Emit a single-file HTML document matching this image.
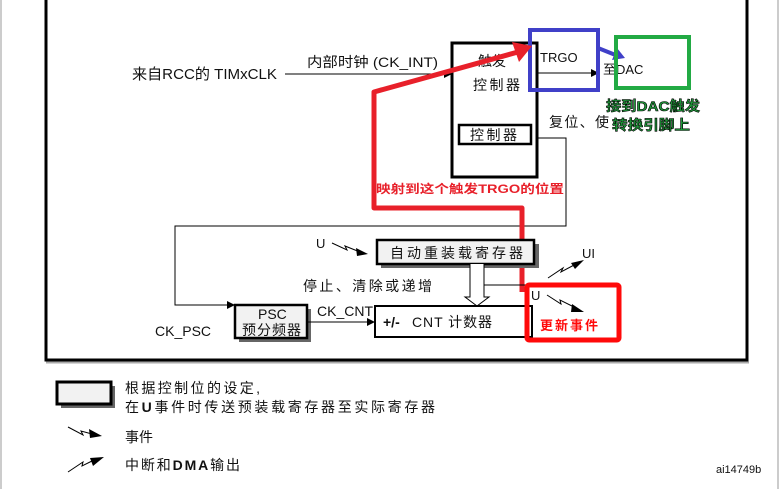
<!DOCTYPE html>
<html><head><meta charset="utf-8"><style>
html,body{margin:0;padding:0;background:#fff;}
svg{display:block;}
text{font-family:"Liberation Sans","Noto Sans CJK SC",sans-serif;fill:#111;}
</style></head><body>
<svg width="779" height="489" viewBox="0 0 779 489" xmlns="http://www.w3.org/2000/svg">
<defs>
<marker id="ah" markerWidth="8" markerHeight="8" refX="7" refY="4" orient="auto" markerUnits="userSpaceOnUse"><path d="M0,0 L8,4 L0,8 z" fill="#000"/></marker>
</defs>
<line x1="1" y1="0" x2="1" y2="489" stroke="#999" stroke-width="1"/>
<line x1="778" y1="0" x2="778" y2="489" stroke="#999" stroke-width="1"/>
<polyline points="46,0 46,360 747,360 747,0" fill="none" stroke="#000" stroke-width="3"/>
<line x1="46" y1="362.5" x2="749" y2="362.5" stroke="#aaa" stroke-width="2"/>

<text x="132" y="79" font-size="15" textLength="145" lengthAdjust="spacingAndGlyphs">来自RCC的 TIMxCLK</text>
<line x1="285" y1="74" x2="451" y2="74" stroke="#000" stroke-width="1" marker-end="url(#ah)"/>
<text x="307" y="67" font-size="14" textLength="131" lengthAdjust="spacingAndGlyphs">内部时钟 (CK_INT)</text>

<rect x="452" y="43" width="85" height="134" fill="#fff" stroke="#000" stroke-width="3"/>
<text x="478" y="66" font-size="14">触发</text>
<text x="473" y="90" font-size="14" textLength="47">控制器</text>
<rect x="459" y="125" width="72" height="19" fill="#fff" stroke="#000" stroke-width="2.5"/>
<text x="470" y="140" font-size="14" textLength="47">控制器</text>

<text x="540" y="62" font-size="13">TRGO</text>
<line x1="537" y1="73" x2="598" y2="73" stroke="#000" stroke-width="1" marker-end="url(#ah)"/>
<text x="603" y="74" font-size="13">至DAC</text>

<rect x="530" y="30" width="68" height="60" fill="none" stroke="#4040c8" stroke-width="4"/>
<line x1="598" y1="48" x2="618" y2="56" stroke="#4040c8" stroke-width="4"/>
<path d="M625,58 L612,60 L617,48 z" fill="#4040c8"/>
<rect x="616" y="37" width="73" height="51" fill="none" stroke="#22aa44" stroke-width="4"/>

<text x="549" y="127" font-size="14" textLength="60">复位、使</text>
<text x="606" y="111" font-size="14" font-weight="bold" textLength="94" lengthAdjust="spacingAndGlyphs" style="fill:#1f9a3a;stroke:#000;stroke-width:0.6">接到DAC触发</text>
<text x="612" y="130" font-size="14" font-weight="bold" textLength="78" lengthAdjust="spacingAndGlyphs" style="fill:#1f9a3a;stroke:#000;stroke-width:0.6">转换引脚上</text>
<polyline points="537,138 566,138 566,226 175,226 175,305 234,305" fill="none" stroke="#000" stroke-width="1" marker-end="url(#ah)"/>

<polyline points="522,292 522,208 374,208 374,92 518,52" fill="none" stroke="#e8202a" stroke-width="5" stroke-linejoin="round"/>
<path d="M532,46 L512,42 L519,62 z" fill="#e8202a"/>
<text x="376" y="193" font-size="12" font-weight="bold" textLength="188" lengthAdjust="spacingAndGlyphs" style="fill:#e8202a">映射到这个触发TRGO的位置</text>

<rect x="381" y="244" width="158" height="24" fill="#666"/>
<rect x="377" y="240" width="157" height="24" fill="#f2f2f2" stroke="#000" stroke-width="2.5"/>
<text x="390" y="258" font-size="14" textLength="133">自动重装载寄存器</text>
<text x="316" y="248" font-size="13">U</text>
<polyline points="332,243 347,250 345,246 360,252" fill="none" stroke="#000" stroke-width="1"/>
<path d="M368,254 L356,248 L357,256 z" fill="#000"/>

<path d="M470,264 L470,297 L465,297 L477,306 L489,297 L484,297 L484,264" fill="#fff" stroke="#000" stroke-width="1"/>
<line x1="484" y1="285" x2="545" y2="285" stroke="#000" stroke-width="1"/>
<polyline points="548,278 563,268 561,272 576,264" fill="none" stroke="#000" stroke-width="1"/>
<path d="M584,260 L571,263 L575,269 z" fill="#000"/>
<text x="582" y="258" font-size="13">UI</text>
<text x="531" y="300" font-size="13">U</text>
<polyline points="547,295 561,304 560,300 576,308" fill="none" stroke="#000" stroke-width="1"/>
<path d="M584,312 L572,304 L571,312 z" fill="#000"/>

<text x="303" y="291" font-size="14" textLength="129">停止、清除或递增</text>

<rect x="239" y="309" width="72" height="33" fill="#666"/>
<rect x="235" y="305" width="72" height="33" fill="#f2f2f2" stroke="#000" stroke-width="2.5"/>
<text x="258" y="319" font-size="14">PSC</text>
<text x="242" y="335" font-size="14" textLength="59">预分频器</text>
<text x="155" y="336" font-size="14">CK_PSC</text>
<text x="317" y="316" font-size="14">CK_CNT</text>
<line x1="307" y1="322" x2="374" y2="322" stroke="#000" stroke-width="1" marker-end="url(#ah)"/>

<rect x="375" y="306" width="157" height="31" fill="#fff" stroke="#000" stroke-width="2"/>
<text x="383" y="327" font-size="14" font-weight="bold">+/-</text>
<text x="412" y="327" font-size="14" textLength="80">CNT 计数器</text>

<rect x="527" y="285" width="92" height="55" rx="2" fill="none" stroke="#ff0a0a" stroke-width="5"/>
<text x="540" y="330" font-size="13" font-weight="bold" textLength="58" style="fill:#ff0a0a">更新事件</text>

<rect x="61" y="386" width="54" height="22" fill="#666"/>
<rect x="57" y="382" width="54" height="22" fill="#f2f2f2" stroke="#000" stroke-width="3"/>
<text x="125" y="393" font-size="14" textLength="135">根据控制位的设定,</text>
<text x="125" y="412" font-size="14" textLength="310">在<tspan font-weight="bold">U</tspan>事件时传送预装载寄存器至实际寄存器</text>
<polyline points="68,427 83,435 81,431 92,434" fill="none" stroke="#000" stroke-width="1"/>
<path d="M102,436 L89,429 L90,438 z" fill="#000"/>
<text x="125" y="442" font-size="14" textLength="28">事件</text>
<polyline points="68,472 83,462 82,466 92,461" fill="none" stroke="#000" stroke-width="1"/>
<path d="M104,457 L90,458 L93,466 z" fill="#000"/>
<text x="125" y="470" font-size="14" textLength="115">中断和<tspan font-weight="bold">DMA</tspan>输出</text>
<text x="716" y="473" font-size="11">ai14749b</text>
</svg>
</body></html>
